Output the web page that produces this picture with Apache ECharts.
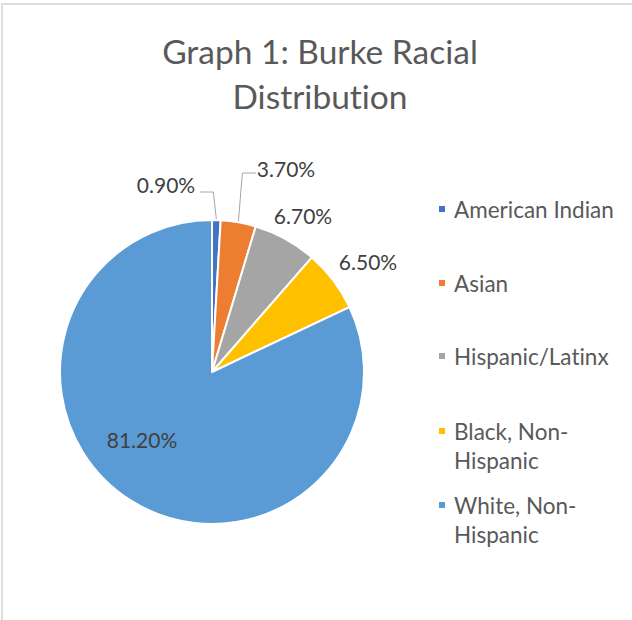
<!DOCTYPE html>
<html>
<head>
<meta charset="utf-8">
<script src="https://cdn.jsdelivr.net/npm/echarts@6/dist/echarts.min.js"></script>
<style>
  html, body { margin: 0; padding: 0; background: #ffffff; }
  #chart { width: 632px; height: 620px; }
  #chart text { font-variant-ligatures: none; font-feature-settings: "liga" 0, "clig" 0; }
</style>
</head>
<body>
<div id="chart"></div>
<script>
// Racial distribution, Burke (percent of population)
const categories = ['American Indian', 'Asian', 'Hispanic/Latinx', 'Black, Non-Hispanic', 'White, Non-Hispanic'];
const legendText = ['American Indian', 'Asian', 'Hispanic/Latinx', 'Black, Non-\nHispanic', 'White, Non-\nHispanic'];
const shares = [0.9, 3.7, 6.7, 6.5, 81.2];
const sliceColors = ['#4472C4', '#ED7D31', '#A5A5A5', '#FFC000', '#5B9BD5'];

// pie geometry
const CX = 212, CY = 372, R = 152;
const FONT = 'Lato, "Open Sans", sans-serif';

// label centres, relative to the pie centre
const labelOffsets = [[-46, -188], [74, -204], [91, -157], [156, -111], [-70, 67]];
// first-line centres of the legend entries
const legendRows = [209, 283, 356, 431, 505];
const LINE = 29;

const total = shares.reduce((a, b) => a + b, 0);
function edgePoint(i, rr) {
  let before = 0;
  for (let k = 0; k < i; k++) before += shares[k];
  const a = (before + shares[i] / 2) / total * Math.PI * 2;
  return [CX + rr * Math.sin(a), CY - rr * Math.cos(a)];
}

const chart = echarts.init(document.getElementById('chart'), null, { renderer: 'svg' });

// one legend block per entry; wrapped entries get a blank leading line so the
// marker sits beside their first line
const legends = categories.map((name, i) => {
  const twoLines = legendText[i].indexOf('\n') >= 0;
  return {
    data: [name],
    orient: 'vertical',
    left: 437,
    top: legendRows[i] - (twoLines ? LINE * 1.5 : LINE / 2),
    icon: 'rect',
    itemWidth: 8,
    itemHeight: 8,
    padding: 0,
    selectedMode: false,
    formatter: () => (twoLines ? '\n' : '') + legendText[i],
    textStyle: {
      fontFamily: FONT,
      fontSize: 22.5,
      lineHeight: LINE,
      color: '#595959',
      padding: [0, 0, 0, 3]
    }
  };
});

const option = {
  animation: false,
  backgroundColor: '#ffffff',
  title: {
    text: 'Graph 1: Burke Racial\nDistribution',
    left: 320,
    top: 28,
    textAlign: 'center',
    padding: 0,
    textStyle: {
      fontFamily: FONT,
      fontSize: 33.5,
      lineHeight: 45,
      fontWeight: 'normal',
      color: '#595959'
    }
  },
  legend: legends,
  graphic: [{
    type: 'rect',
    shape: { x: 2, y: 4, width: 720, height: 720 },
    style: { fill: 'none', stroke: '#dedede', lineWidth: 2 },
    silent: true
  }],
  series: [{
    type: 'pie',
    center: [CX, CY],
    radius: R,
    startAngle: 90,
    clockwise: true,
    avoidLabelOverlap: false,
    emphasis: { disabled: true },
    itemStyle: { borderColor: '#ffffff', borderWidth: 2 },
    label: {
      show: true,
      position: 'outside',
      fontFamily: FONT,
      fontSize: 21,
      color: '#404040',
      formatter: p => p.value.toFixed(2) + '%'
    },
    labelLine: {
      show: true,
      lineStyle: { color: '#A6A6A6', width: 1 }
    },
    labelLayout: function (params) {
      const i = params.dataIndex;
      const x = CX + labelOffsets[i][0];
      const y = CY + labelOffsets[i][1];
      const w = params.labelRect.width;
      const out = { x: x, y: y, align: 'center', verticalAlign: 'middle' };
      const e = edgePoint(i, R);
      if (i === 0) {
        out.labelLinePoints = [[x + w / 2 + 5, y + 8], [e[0] - 3, y + 8], [e[0], e[1] - 1]];
      } else if (i === 1) {
        out.labelLinePoints = [[x - w / 2 - 1, y + 5], [e[0] + 4, y + 5], [e[0], e[1] - 1]];
      }
      return out;
    },
    data: categories.map((name, i) => ({
      name: name,
      value: shares[i],
      itemStyle: { color: sliceColors[i] },
      label: i === 4 ? { position: 'inside' } : {},
      labelLine: { show: i < 2 }
    }))
  }]
};

chart.setOption(option);
</script>
</body>
</html>
